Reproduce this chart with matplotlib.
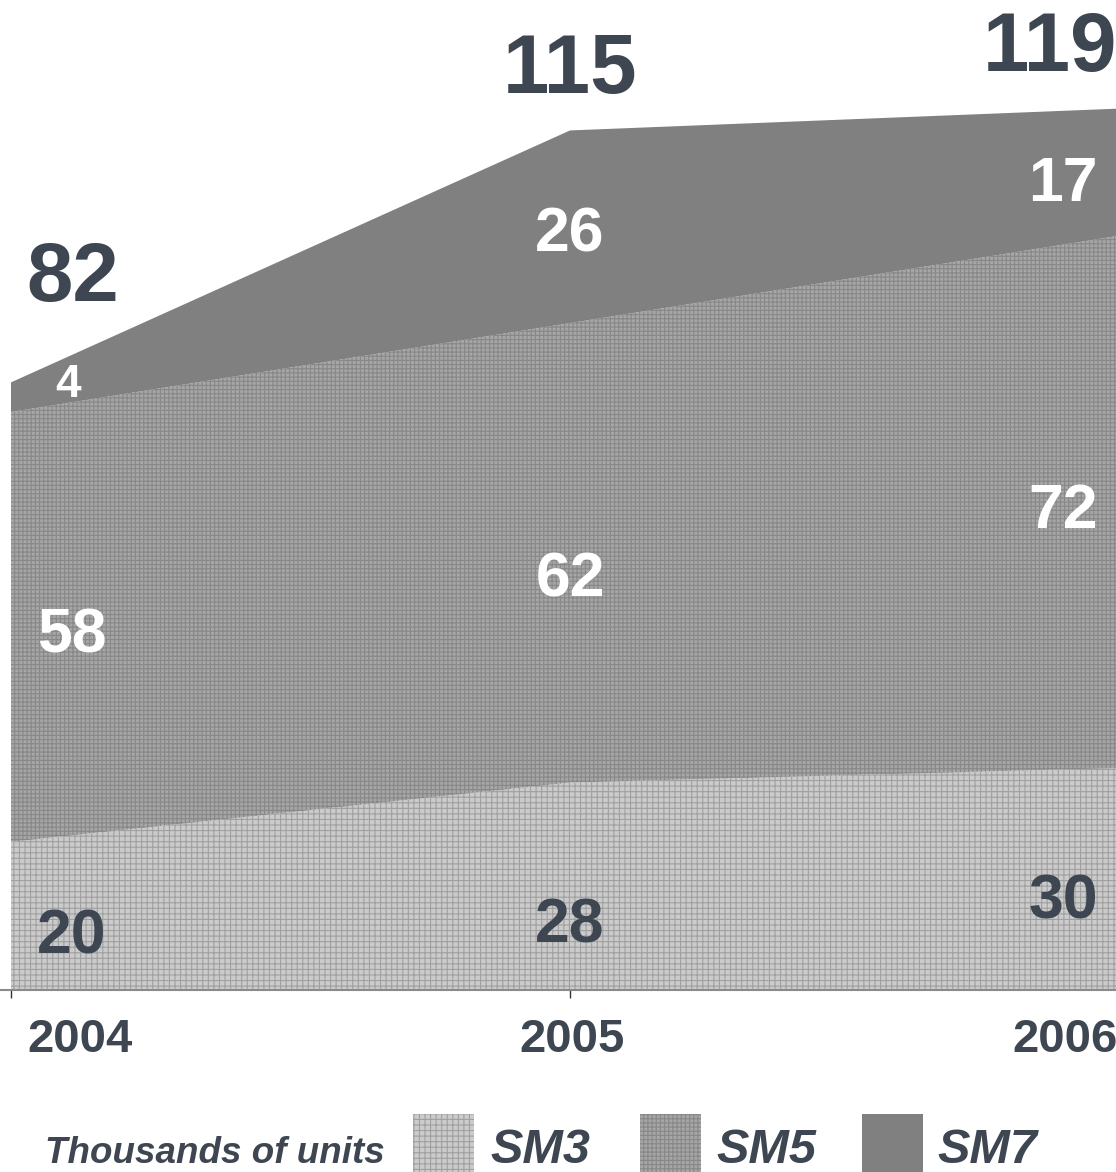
import matplotlib
matplotlib.use("Agg")
import matplotlib.pyplot as plt
from matplotlib.patches import Rectangle
import numpy as np

# data (thousands of units)
years = [2004, 2005, 2006]
sm3 = [20, 28, 30]
sm5 = [58, 62, 72]
sm7 = [4, 26, 17]
totals = [82, 115, 119]
series_names = ["SM3", "SM5", "SM7"]

W, H = 1116, 1172
fig = plt.figure(figsize=(W / 100, H / 100), dpi=100)
plt.rcParams['font.family'] = ['Liberation Sans', 'DejaVu Sans']
plt.rcParams['hatch.linewidth'] = 0.8

dark = "#3d4651"
col3, hatch3 = "#cbcbcb", "#a0a0a0"
col5, hatch5 = "#a6a6a6", "#888888"
col7 = "#808080"

# axes: 2004 at px 11, 2005 at px 570, baseline at px 990
px_per_year = 559
x0 = 2004 - 11 / px_per_year
x1 = 2004 + (W - 11) / px_per_year
px_per_unit = 7.41
ax = fig.add_axes([0, (H - 990) / H, 1, 990 / H])

b3 = np.array(sm3)
b5 = b3 + np.array(sm5)
b7 = b5 + np.array(sm7)
ax.fill_between(years, 0, b3, facecolor=col3, edgecolor=hatch3, hatch="+++", linewidth=0)
ax.fill_between(years, b3, b5, facecolor=col5, edgecolor=hatch5, hatch="++++", linewidth=0)
ax.fill_between(years, b5, b7, facecolor=col7, edgecolor=col7, linewidth=0)

for s in ["top", "right", "left"]:
    ax.spines[s].set_visible(False)
ax.spines["bottom"].set_color("#8a8a8a")
ax.spines["bottom"].set_linewidth(1.5)
ax.set_yticks([])
ax.set_xticks(years)
ax.set_xticklabels([])
ax.tick_params(axis="x", length=6, color="#333333", width=1)
ax.set_xlim(x0, x1)
ax.set_ylim(0, 990 / px_per_unit)

# value labels
def dx(px):
    return px / px_per_year

def dy(px):
    return px / px_per_unit

offs = [dx(61), 0, dx(-66)]
# small vertical nudges (pixels, up positive) per label
nudge3 = [5, -14, 3]
nudge5 = [8, -10, 6]
nudge7 = [0, 0, -5]
cap = 3.0  # half digit height in data units for 45pt text
for i, yr in enumerate(years):
    xi = yr + offs[i]
    ax.text(xi, sm3[i] / 2 - 2.7 - cap + dy(nudge3[i]), str(sm3[i]), ha="center", va="baseline",
            fontsize=45, fontweight="bold", color=dark)
    ax.text(xi, b3[i] + sm5[i] / 2 - 1.5 - cap + dy(nudge5[i]), str(sm5[i]), ha="center", va="baseline",
            fontsize=45, fontweight="bold", color="white")
    small = sm7[i] < 10
    ax.text(xi - (dx(4) if small else 0),
            b5[i] + sm7[i] / 2 + (0 if small else -0.3 - cap) + dy(nudge7[i]),
            str(sm7[i]), ha="center", va="baseline",
            fontsize=33 if small else 45, fontweight="bold", color="white")
    ax.text(xi + (dx(1) if i == 0 else 0) - (dx(13) if i == 2 else 0),
            b7[i] + (11 if i == 0 else 5), str(totals[i]), ha="center", va="baseline",
            fontsize=60, fontweight="bold", color=dark, clip_on=False)

# year labels
ylab = (H - 1052) / H
fig.text(27 / W, ylab, str(years[0]), ha="left", va="baseline", fontsize=34, fontweight="bold", color=dark)
fig.text(572 / W, ylab, str(years[1]), ha="center", va="baseline", fontsize=34, fontweight="bold", color=dark)
fig.text(1012 / W, ylab, str(years[2]), ha="left", va="baseline", fontsize=34, fontweight="bold", color=dark)

# legend
ly = (H - 1163) / H
fig.text(45 / W, ly, "Thousands of units", ha="left", va="baseline", fontsize=26.5,
         fontweight="bold", style="italic", color=dark)
patch_x = [413, 640, 862]
text_x = [490, 716, 937]
styles = [(col3, hatch3, "+++"), (col5, hatch5, "++++"), (col7, col7, None)]
for name, px, tx, (fc, ec, hh) in zip(series_names, patch_x, text_x, styles):
    r = Rectangle((px / W, 0), 61 / W, (H - 1114) / H, transform=fig.transFigure,
                  facecolor=fc, edgecolor=ec, hatch=hh, linewidth=0)
    fig.add_artist(r)
    fig.text(tx / W, ly, name, ha="left", va="baseline", fontsize=35,
             fontweight="bold", style="italic", color=dark)

fig.savefig("out.png", dpi=100)
